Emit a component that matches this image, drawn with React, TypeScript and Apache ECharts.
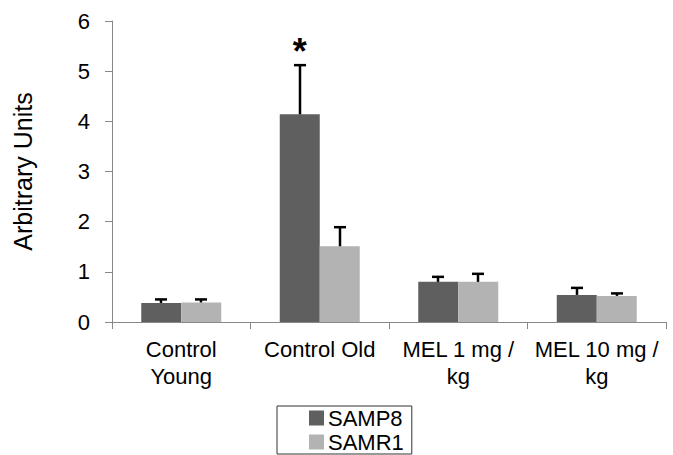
import React, { useEffect, useRef } from "react";
import * as echarts from "echarts";

const categories = ["Control\nYoung", "Control Old", "MEL 1 mg /\nkg", "MEL 10 mg /\nkg"];
const samp8 = [0.38, 4.14, 0.8, 0.54];
const samp8Err = [0.07, 0.98, 0.1, 0.14];
const samr1 = [0.39, 1.51, 0.8, 0.52];
const samr1Err = [0.06, 0.38, 0.16, 0.05];
const yTicks = [0, 1, 2, 3, 4, 5, 6];
const significance = [{ category: 1, series: 0, value: 5.56, text: "*" }];

const DARK = "#5f5f5f";
const LIGHT = "#b3b3b3";
const BAR_W = 40;

function errSeries(name: string, vals: number[], errs: number[], offset: number) {
  return {
    type: "custom",
    name: name + " err",
    z: 5,
    data: vals.map((v, i) => [i, v, v + errs[i]]),
    renderItem: (params: any, api: any) => {
      const i = api.value(0);
      const base = api.coord([i, api.value(1)]);
      const top = api.coord([i, api.value(2)]);
      const x = Math.round(base[0] + offset);
      return {
        type: "group",
        children: [
          { type: "line", shape: { x1: x, y1: base[1], x2: x, y2: top[1] }, style: { stroke: "#000", lineWidth: 2.5 } },
          { type: "line", shape: { x1: x - 6, y1: top[1], x2: x + 6, y2: top[1] }, style: { stroke: "#000", lineWidth: 2.5 } },
        ],
      };
    },
  };
}

export default function App() {
  const ref = useRef<HTMLDivElement>(null);
  useEffect(() => {
    if (!ref.current) return;
    const chart = echarts.init(ref.current, null, { renderer: "svg" });
    chart.setOption({
      animation: false,
      backgroundColor: "#fff",
      textStyle: { fontFamily: "Liberation Sans, Arial, sans-serif" },
      grid: { left: 112, right: 7, top: 21, bottom: 133 },
      legend: {
        data: [
          { name: "SAMP8", icon: "rect" },
          { name: "SAMR1", icon: "rect" },
        ],
        orient: "vertical",
        left: 277,
        top: 406,
        itemWidth: 15,
        itemHeight: 15,
        itemGap: 0,
        padding: [0, 8, 0, 32],
        borderColor: "#333",
        borderWidth: 1,
        textStyle: { fontSize: 22, lineHeight: 24, color: "#000", padding: [0, 0, 0, -1] },
      },
      xAxis: {
        type: "category",
        data: categories,
        axisLine: { lineStyle: { color: "#888", width: 1 } },
        axisTick: { show: true, length: 7, lineStyle: { color: "#888" } },
        axisLabel: { fontSize: 22, color: "#000", lineHeight: 27, margin: 14, interval: 0 },
      },
      yAxis: {
        type: "value",
        min: 0,
        max: 6,
        interval: 1,
        name: "Arbitrary Units",
        nameLocation: "middle",
        nameGap: 77,
        nameTextStyle: { fontSize: 25, color: "#000" },
        axisLine: { show: true, lineStyle: { color: "#888" } },
        axisTick: { show: true, length: 7, lineStyle: { color: "#888" } },
        axisLabel: {
          fontSize: 22,
          color: "#000",
          margin: 22,
          formatter: (v: number) => (yTicks.includes(v) ? String(v) : ""),
        },
        splitLine: { show: false },
      },
      series: [
        {
          type: "bar",
          name: "SAMP8",
          data: samp8,
          barWidth: BAR_W,
          barGap: "0%",
          itemStyle: { color: DARK },
          markPoint: {
            symbol: "circle",
            symbolSize: 0,
            data: significance
              .filter((s) => s.series === 0)
              .map((s) => ({
                coord: [s.category, s.value],
                label: { show: true, formatter: s.text, fontSize: 36, color: "#000", fontWeight: "bold", offset: [0, 8] },
              })),
          },
        },
        {
          type: "bar",
          name: "SAMR1",
          data: samr1,
          barWidth: BAR_W,
          barGap: "0%",
          itemStyle: { color: LIGHT },
        },
        errSeries("SAMP8", samp8, samp8Err, -BAR_W / 2),
        errSeries("SAMR1", samr1, samr1Err, BAR_W / 2),
      ],
    });
    return () => chart.dispose();
  }, []);
  return <div ref={ref} style={{ width: 673, height: 455, position: "absolute", left: 0, top: 0 }} />;
}
